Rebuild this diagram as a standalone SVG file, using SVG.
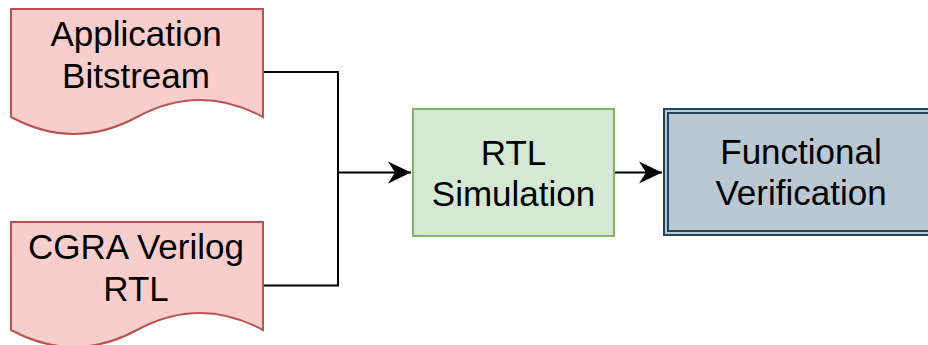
<svg xmlns="http://www.w3.org/2000/svg" width="928" height="345" viewBox="0 0 928 345">
<style>
.doc{fill:#f8cecc;stroke:#b85450;stroke-width:2}
.t{font-family:"Liberation Sans",Arial,sans-serif;font-size:35px;fill:#000;text-anchor:middle}
.c{fill:none;stroke:#000;stroke-width:2}
</style>
<defs>
<marker id="ah" markerUnits="userSpaceOnUse" markerWidth="24" markerHeight="24" viewBox="-23 -11 24 22" refX="0" refY="0" orient="auto">
<path d="M0,0 L-23,-11 L-16,0 L-23,11 Z" fill="#000"/>
</marker>
</defs>
<rect width="928" height="345" fill="#fff"/>
<g id="connectors">
<path class="c" d="M263,72 H338 V285.5 H263"/>
<path class="c" d="M338,172.5 H411" marker-end="url(#ah)"/>
<path class="c" d="M614,172.5 H662" marker-end="url(#ah)"/>
</g>
<g id="app-bitstream">
<path class="doc" d="M11,9 H263 V117 Q200,83 137,117 Q74,151 11,117 Z"/>
<text class="t" x="136" y="46">Application</text>
<text class="t" x="136" y="87.5">Bitstream</text>
</g>
<g id="cgra-verilog">
<path class="doc" d="M11,222 H263 V330 Q200,296 137,330 Q74,364 11,330 Z"/>
<text class="t" x="136" y="259">CGRA Verilog</text>
<text class="t" x="136" y="301">RTL</text>
</g>
<g id="rtl-sim">
<rect x="413" y="109" width="201" height="127" fill="#d5e8d4" stroke="#82b366" stroke-width="2"/>
<text class="t" x="513.5" y="165">RTL</text>
<text class="t" x="513.5" y="206">Simulation</text>
</g>
<g id="func-verif">
<rect x="664" y="109" width="272" height="126" fill="#bac8d3" stroke="#23445d" stroke-width="2"/>
<rect x="668" y="113" width="264" height="118" fill="none" stroke="#23445d" stroke-width="2"/>
<text class="t" x="801" y="164">Functional</text>
<text class="t" x="801" y="205">Verification</text>
</g>
</svg>
